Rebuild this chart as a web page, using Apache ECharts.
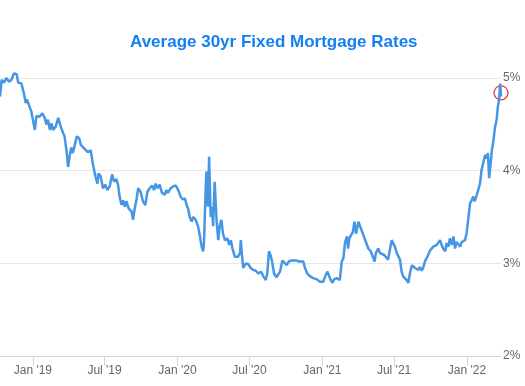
<!DOCTYPE html>
<html>
<head>
<meta charset="utf-8">
<script src="https://cdn.jsdelivr.net/npm/echarts@6/dist/echarts.min.js"></script>
<style>html,body{margin:0;padding:0;background:#fff;}#c{width:525px;height:386px;}</style>
</head>
<body>
<div id="c"></div>
<script>
const title = 'Average 30yr Fixed Mortgage Rates';
const dates = [
'2018-10-10','2018-10-14','2018-10-20','2018-10-26','2018-11-02','2018-11-08','2018-11-14','2018-11-21','2018-11-25','2018-12-03','2018-12-09','2018-12-14','2018-12-17','2018-12-22','2018-12-28','2019-01-02','2019-01-06','2019-01-10','2019-01-17','2019-01-25','2019-01-31','2019-02-04','2019-02-08','2019-02-13','2019-02-17','2019-02-21','2019-02-28','2019-03-06','2019-03-12','2019-03-18','2019-03-22','2019-03-27','2019-03-31','2019-04-04','2019-04-08','2019-04-12','2019-04-17','2019-04-22','2019-04-28','2019-05-02','2019-05-08',
'2019-05-12','2019-05-20','2019-05-27','2019-06-02','2019-06-08','2019-06-13','2019-06-16','2019-06-21','2019-06-27','2019-07-03','2019-07-08','2019-07-14','2019-07-20','2019-07-25','2019-07-31','2019-08-04','2019-08-08','2019-08-13','2019-08-17','2019-08-21','2019-08-25','2019-08-31','2019-09-07','2019-09-11','2019-09-15','2019-09-20','2019-09-24','2019-09-30','2019-10-06','2019-10-12','2019-10-17','2019-10-23','2019-10-29','2019-11-03','2019-11-07','2019-11-12','2019-11-17','2019-11-23','2019-11-30','2019-12-04','2019-12-08','2019-12-15','2019-12-21',
'2019-12-28','2020-01-03','2020-01-09','2020-01-14','2020-01-20','2020-01-24','2020-01-28','2020-02-01','2020-02-06','2020-02-10','2020-02-16','2020-02-22','2020-02-27','2020-03-02','2020-03-06','2020-03-08','2020-03-11','2020-03-14','2020-03-18','2020-03-21','2020-03-25','2020-03-28','2020-03-31','2020-04-04','2020-04-09','2020-04-13','2020-04-17','2020-04-21','2020-04-25','2020-04-30','2020-05-06','2020-05-11','2020-05-15','2020-05-19','2020-05-25','2020-05-29','2020-06-02','2020-06-07','2020-06-09','2020-06-12','2020-06-15','2020-06-22','2020-06-28','2020-07-04','2020-07-10','2020-07-17','2020-07-23',
'2020-07-30','2020-08-05','2020-08-11','2020-08-15','2020-08-19','2020-08-23','2020-08-27','2020-09-01','2020-09-07','2020-09-11','2020-09-16','2020-09-22','2020-09-27','2020-10-03','2020-10-08','2020-10-15','2020-10-22','2020-10-28','2020-11-03','2020-11-08','2020-11-14','2020-11-18','2020-11-24','2020-12-01','2020-12-09','2020-12-17','2020-12-26','2021-01-03','2021-01-09','2021-01-14','2021-01-20','2021-01-26','2021-01-31','2021-02-06','2021-02-10',
'2021-02-14','2021-02-19','2021-02-23','2021-02-27','2021-03-04','2021-03-07','2021-03-10','2021-03-15','2021-03-19','2021-03-23','2021-03-27','2021-04-02','2021-04-08','2021-04-14','2021-04-21','2021-04-27','2021-05-03','2021-05-08','2021-05-13','2021-05-16','2021-05-22','2021-05-27','2021-05-31','2021-06-06','2021-06-11','2021-06-16','2021-06-21','2021-06-25','2021-06-29','2021-07-03','2021-07-08','2021-07-12','2021-07-16','2021-07-20','2021-07-24','2021-07-29','2021-08-02','2021-08-06','2021-08-10','2021-08-15','2021-08-19','2021-08-23','2021-08-27','2021-08-31','2021-09-04','2021-09-09','2021-09-13','2021-09-17','2021-09-21','2021-09-25','2021-09-30',
'2021-10-04','2021-10-08','2021-10-12','2021-10-17','2021-10-21','2021-10-25','2021-10-29','2021-11-02','2021-11-07','2021-11-11','2021-11-15','2021-11-19','2021-11-24','2021-11-28','2021-12-02','2021-12-06','2021-12-10','2021-12-15','2021-12-19','2021-12-23','2021-12-27','2021-12-31','2022-01-05','2022-01-09','2022-01-13','2022-01-17','2022-01-21','2022-01-26','2022-01-30','2022-02-03','2022-02-07','2022-02-11','2022-02-16','2022-02-20','2022-02-23','2022-02-26','2022-03-01','2022-03-05','2022-03-09','2022-03-13','2022-03-17','2022-03-20','2022-03-23','2022-03-26','2022-03-28'
];
const rates = [
4.80,4.98,4.95,5.00,4.96,4.98,5.05,5.04,4.95,4.94,4.84,4.73,4.77,4.71,4.64,4.66,4.44,4.59,4.58,4.62,4.57,4.50,4.55,4.44,4.51,4.44,4.48,4.57,4.48,4.41,4.37,4.21,4.04,4.16,4.25,4.19,4.21,4.37,4.35,4.28,4.25,
4.24,4.20,4.22,4.06,3.94,3.86,3.97,3.94,3.81,3.85,3.79,3.83,3.96,3.88,3.91,3.85,3.72,3.63,3.68,3.61,3.67,3.59,3.56,3.47,3.59,3.70,3.81,3.77,3.67,3.63,3.77,3.81,3.84,3.79,3.86,3.81,3.85,3.76,3.74,3.79,3.76,3.81,3.83,
3.84,3.79,3.72,3.69,3.70,3.63,3.59,3.50,3.45,3.50,3.47,3.40,3.29,3.18,3.13,3.22,3.63,3.99,3.61,4.15,3.50,3.61,3.40,3.88,3.45,3.25,3.41,3.47,3.32,3.25,3.27,3.20,3.25,3.16,3.07,3.09,3.07,3.11,3.25,3.09,2.95,3.00,2.99,2.95,2.93,2.92,2.89,
2.91,2.86,2.82,2.89,3.13,3.09,3.02,2.89,2.85,2.86,2.91,3.03,3.04,2.98,3.02,3.03,3.03,3.03,3.02,3.01,3.02,2.95,2.89,2.86,2.84,2.83,2.80,2.80,2.87,2.91,2.84,2.79,2.83,2.84,2.82,
2.82,3.02,3.05,3.22,3.29,3.16,3.27,3.29,3.34,3.45,3.32,3.45,3.38,3.31,3.23,3.16,3.13,3.11,3.02,3.11,3.16,3.11,3.13,3.09,3.11,3.04,3.16,3.25,3.23,3.18,3.11,3.13,3.04,2.91,2.86,2.86,2.82,2.79,2.89,2.98,2.96,2.95,2.96,2.93,2.96,2.92,2.96,3.02,3.04,3.09,3.14,
3.13,3.18,3.16,3.20,3.18,3.25,3.20,3.16,3.13,3.22,3.18,3.27,3.20,3.29,3.16,3.23,3.22,3.18,3.23,3.22,3.25,3.32,3.50,3.65,3.68,3.72,3.67,3.74,3.72,3.86,4.01,4.08,4.17,4.13,4.19,3.92,4.04,4.22,4.33,4.47,4.55,4.69,4.76,4.94,4.80
];
const highlightDate = ['2022-03-28'];
const highlightRate = [4.84];
const tickDates = ['2019-01-01','2019-07-01','2020-01-01','2020-07-01','2021-01-01','2021-07-01','2022-01-01'];
const tickLabels = ["Jan '19","Jul '19","Jan '20","Jul '20","Jan '21","Jul '21","Jan '22"];
const yTicks = [2,3,4,5];

const ts = d => echarts.number.parseDate(d).getTime();
const tickTs = tickDates.map(ts);

const chart = echarts.init(document.getElementById('c'), null, {renderer: 'canvas'});
chart.setOption({
  animation: false,
  backgroundColor: '#ffffff',
  title: {
    text: title,
    left: 125,
    top: 29,
    textStyle: {fontFamily: 'Liberation Sans', fontWeight: 'bold', fontSize: 17, color: '#1380f2'}
  },
  grid: {left: 0, right: 24, top: 78, bottom: 30, containLabel: false},
  xAxis: {
    type: 'value',
    min: ts(dates[0]),
    max: ts(dates[dates.length - 1]),
    axisLine: {show: true, onZero: false, lineStyle: {color: '#ccd6eb', width: 1}},
    axisTick: {show: true, length: 10, customValues: tickTs, lineStyle: {color: '#ccd6eb'}},
    axisLabel: {
      customValues: tickTs,
      margin: 9,
      color: '#666666',
      fontSize: 12,
      fontFamily: 'Liberation Sans',
      formatter: v => { const i = tickTs.indexOf(v); return i >= 0 ? tickLabels[i] : ''; }
    },
    splitLine: {show: false}
  },
  yAxis: {
    type: 'value',
    position: 'right',
    min: yTicks[0],
    max: yTicks[yTicks.length - 1],
    interval: 1,
    axisLine: {show: false},
    axisTick: {show: false},
    axisLabel: {
      margin: 2,
      color: '#666666',
      fontSize: 12,
      fontFamily: 'Liberation Sans',
      formatter: '{value}%',
      padding: [0, 0, 8, 0]
    },
    splitLine: {lineStyle: {color: '#e6e6e6', width: 1}}
  },
  series: [
    {
      type: 'line',
      data: dates.map((d, i) => [ts(d), rates[i]]),
      showSymbol: false,
      clip: false,
      lineStyle: {color: '#4696e5', width: 2.5},
      itemStyle: {color: '#4696e5'}
    },
    {
      type: 'scatter',
      data: highlightDate.map((d, i) => [ts(d), highlightRate[i]]),
      symbol: 'circle',
      symbolSize: 14,
      clip: false,
      itemStyle: {color: 'rgba(0,0,0,0)', borderColor: '#e0141a', borderWidth: 1.3}
    }
  ]
});
</script>
</body>
</html>
